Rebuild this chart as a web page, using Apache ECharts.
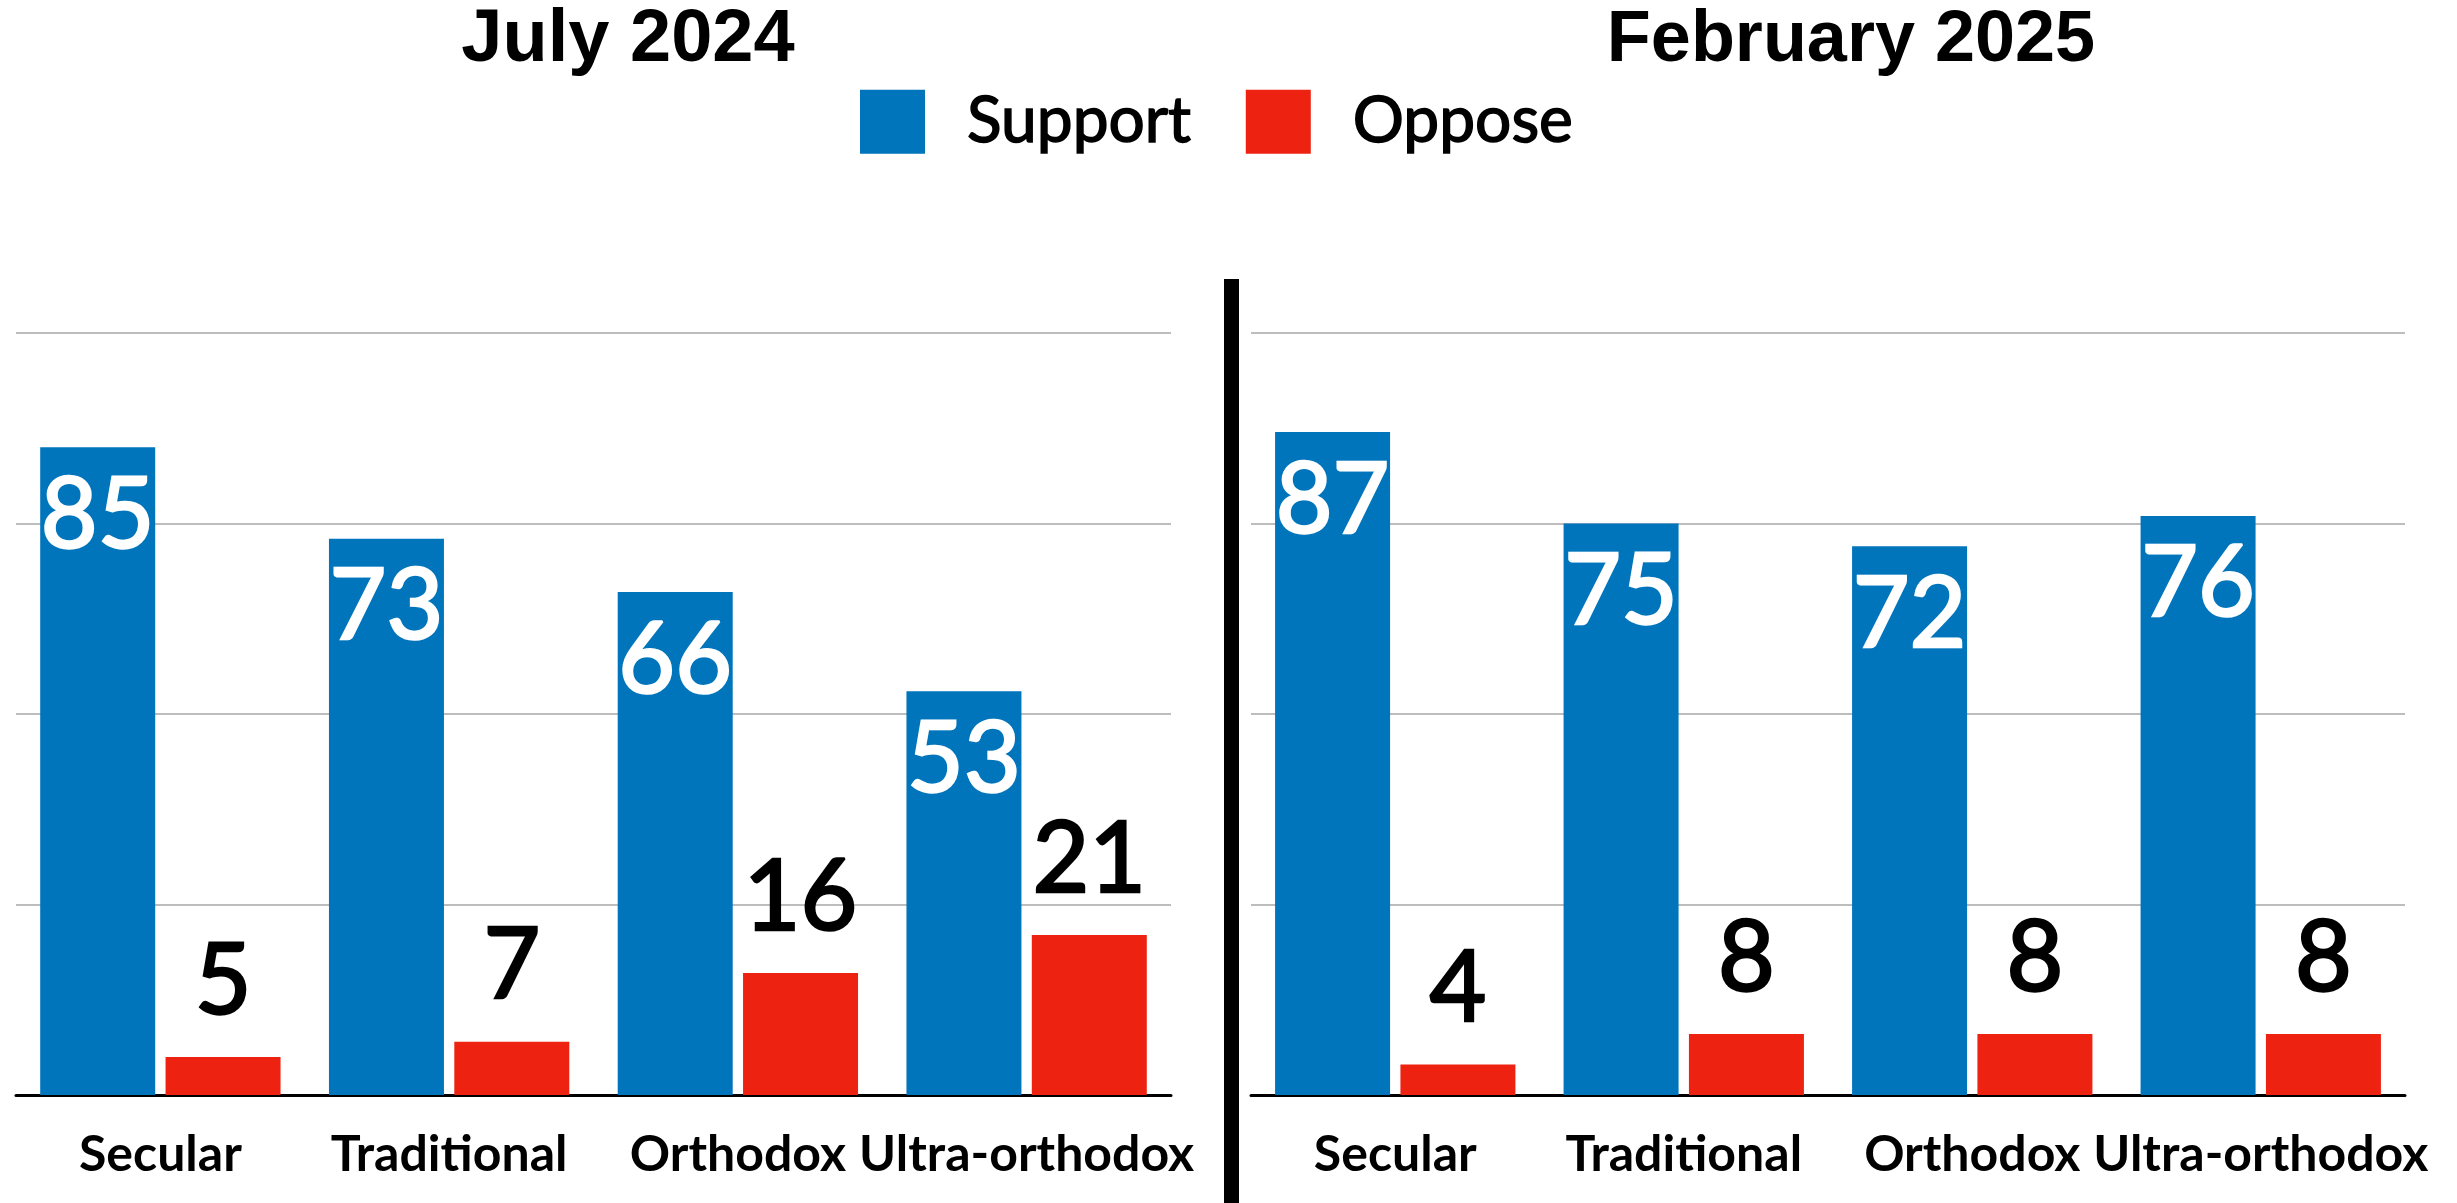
<!DOCTYPE html>
<html>
<head>
<meta charset="utf-8">
<script src="https://cdn.jsdelivr.net/npm/echarts@6/dist/echarts.min.js"></script>
<style>
html,body{margin:0;padding:0;background:#fff;}
#chart{width:2457px;height:1203px;}
</style>
</head>
<body>
<div id="chart"></div>
<script>
var categories = ['Secular', 'Traditional', 'Orthodox', 'Ultra-orthodox'];
var panelTitles = ['July 2024', 'February 2025'];
var seriesNames = ['Support', 'Oppose'];
var julySupport = [85, 73, 66, 53];
var julyOppose = [5, 7, 16, 21];
var febSupport = [87, 75, 72, 76];
var febOppose = [4, 8, 8, 8];
var yTicks = [0, 25, 50, 75, 100];

var BLUE = '#0075BC';
var RED = '#EE2211';
var FONT = 'Lato, "Open Sans", sans-serif';

var chart = echarts.init(document.getElementById('chart'), null, {renderer: 'canvas'});

function xAxisFor(i) {
  return {
    type: 'category', gridIndex: i, data: categories,
    axisTick: {show: false},
    axisLine: {show: true, lineStyle: {color: '#000', width: 3}},
    axisLabel: {interval: 0, margin: 35, color: '#000', fontFamily: FONT, fontWeight: 'bold', fontSize: 50}
  };
}
function yAxisFor(i) {
  return {
    type: 'value', gridIndex: i, min: yTicks[0], max: yTicks[yTicks.length - 1], interval: 25,
    axisLabel: {show: false}, axisLine: {show: false}, axisTick: {show: false},
    splitLine: {show: true, lineStyle: {color: '#BDBDBD', width: 2}}
  };
}
function supportSeries(i, data) {
  return {
    name: seriesNames[0], type: 'bar', xAxisIndex: i, yAxisIndex: i, data: data,
    barWidth: 115, barGap: '9%', itemStyle: {color: BLUE},
    label: {show: true, position: 'insideTop', distance: 20, color: '#fff', fontFamily: FONT, fontSize: 98,
      textBorderColor: '#fff', textBorderWidth: 2.5}
  };
}
function opposeSeries(i, data) {
  return {
    name: seriesNames[1], type: 'bar', xAxisIndex: i, yAxisIndex: i, data: data,
    barWidth: 115, barGap: '9%', itemStyle: {color: RED},
    label: {show: true, position: 'top', distance: 26, color: '#000', fontFamily: FONT, fontSize: 98,
      textBorderColor: '#000', textBorderWidth: 2.5}
  };
}

var option = {
  backgroundColor: '#fff',
  animation: false,
  legend: {
    data: seriesNames, left: 855, top: 84,
    itemWidth: 65, itemHeight: 64, itemGap: 54, icon: 'rect',
    textStyle: {fontFamily: FONT, fontSize: 64, color: '#000', padding: [0, 0, 0, 37],
      textBorderColor: '#000', textBorderWidth: 1.5}
  },
  grid: [
    {left: 16, top: 333, width: 1155, height: 762},
    {left: 1251, top: 333, width: 1154, height: 762}
  ],
  xAxis: [xAxisFor(0), xAxisFor(1)],
  yAxis: [yAxisFor(0), yAxisFor(1)],
  series: [
    supportSeries(0, julySupport), opposeSeries(0, julyOppose),
    supportSeries(1, febSupport), opposeSeries(1, febOppose)
  ],
  graphic: [
    {type: 'text', x: 628, y: 41, style: {text: panelTitles[0], fill: '#000', font: 'bold 74px "Liberation Sans", Arial, sans-serif', align: 'center', verticalAlign: 'middle'}},
    {type: 'text', x: 1851, y: 41, style: {text: panelTitles[1], fill: '#000', font: 'bold 72px "Liberation Sans", Arial, sans-serif', align: 'center', verticalAlign: 'middle'}},
    {type: 'rect', shape: {x: 1224, y: 279, width: 15, height: 930}, style: {fill: '#000'}}
  ]
};
chart.setOption(option);
</script>
</body>
</html>
